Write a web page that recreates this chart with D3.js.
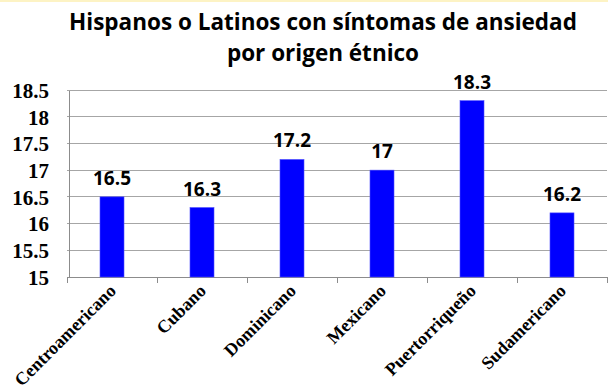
<!DOCTYPE html>
<html><head><meta charset="utf-8">
<script src="https://cdn.jsdelivr.net/npm/d3@7"></script>
<style>body{margin:0;background:#fff}svg{display:block}</style>
</head><body>
<svg id="c" width="608" height="390"></svg>
<script>
const categories = ["Centroamericano","Cubano","Dominicano","Mexicano","Puertorriqueño","Sudamericano"];
const values = [16.5,16.3,17.2,17,18.3,16.2];
const yTicks = [15,15.5,16,16.5,17,17.5,18,18.5];
const yTickLabels = ["15","15.5","16","16.5","17","17.5","18","18.5"];
const titleLines = ["Hispanos o Latinos con síntomas de ansiedad","por origen étnico"];

const svg = d3.select("#c");
svg.append("rect").attr("x",0).attr("y",0).attr("width",608).attr("height",2).attr("fill","#fdf3c4");
const m = {l:67, r:607, t:90, b:277};
const x = d3.scaleBand().domain(categories).range([m.l,m.r]).paddingInner(0).paddingOuter(0);
const y = d3.scaleLinear().domain([15,18.5]).range([m.b,m.t]);

// gridlines
svg.append("g").selectAll("line").data(yTicks.slice(1)).join("line")
  .attr("x1",m.l).attr("x2",m.r).attr("y1",d=>y(d)).attr("y2",d=>y(d))
  .attr("stroke","#a6a6a6").attr("stroke-width",1).attr("shape-rendering","crispEdges");

// y axis
const ya = svg.append("g").attr("transform",`translate(${m.l+2},0)`)
  .call(d3.axisLeft(y).tickValues(yTicks).tickFormat((d,i)=>yTickLabels[i]).tickSize(0).tickPadding(20));
ya.select(".domain").attr("stroke","#8c8c8c").attr("shape-rendering","crispEdges");
ya.selectAll("text").attr("font-family","'Liberation Serif',serif").attr("font-weight","bold").attr("font-size",21).attr("fill","#000").attr("dy","0.35em");

// x axis
const xa = svg.append("g").attr("transform",`translate(0,${m.b})`)
  .call(d3.axisBottom(x).tickSize(0).tickFormat(""));
xa.select(".domain").attr("stroke","#8c8c8c").attr("shape-rendering","crispEdges");
xa.selectAll(".tick").remove();
const bounds = categories.map(c=>x(c)).concat([x(categories[categories.length-1])+x.bandwidth()]);
svg.append("g").selectAll("line").data(bounds).join("line")
  .attr("x1",d=>d).attr("x2",d=>d).attr("y1",m.b).attr("y2",m.b+6)
  .attr("stroke","#8c8c8c").attr("shape-rendering","crispEdges");

// bars
const bw = 24;
svg.append("g").selectAll("rect").data(values).join("rect")
  .attr("x",(d,i)=>x(categories[i])+x.bandwidth()/2-bw/2)
  .attr("y",d=>y(d)).attr("width",bw).attr("height",d=>y(15)-y(d))
  .attr("fill","#0000ff").attr("stroke","#4d4dff").attr("stroke-width",0.6);

// value labels
svg.append("g").selectAll("text").data(values).join("text")
  .attr("x",(d,i)=>x(categories[i])+x.bandwidth()/2)
  .attr("y",d=>y(d)-12)
  .attr("text-anchor","middle").attr("font-family","'Open Sans',sans-serif").attr("font-weight","bold").attr("font-size",19)
  .text(d=>String(d));

// x labels
svg.append("g").selectAll("text").data(categories).join("text")
  .attr("transform",d=>`translate(${x(d)+x.bandwidth()/2+5},${m.b+15}) rotate(-45)`)
  .attr("text-anchor","end").attr("font-family","'Liberation Serif',serif").attr("font-weight","bold").attr("font-size",18)
  .text(d=>d);

// title
svg.append("g").selectAll("text").data(titleLines).join("text")
  .attr("x",323).attr("y",(d,i)=>30+i*31)
  .attr("text-anchor","middle").attr("font-family","'Open Sans',sans-serif").attr("font-weight","bold").attr("font-size",22.5)
  .text(d=>d);
</script>
</body></html>
